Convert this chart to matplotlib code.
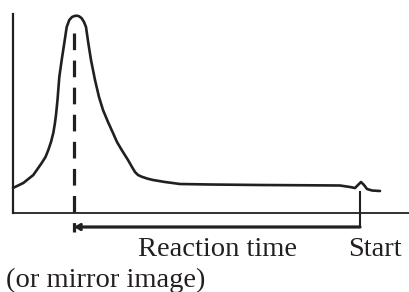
import matplotlib
matplotlib.use("Agg")
import matplotlib.pyplot as plt

# Signal trace (time, signal)
time = [0, 2, 10.3, 20.3, 28.7, 32.5, 35.3, 38, 40.3, 41.8, 43, 44.5, 46.3, 48.7,
        51.3, 53.7, 56.3, 59, 61.5, 63.7, 66, 68.7, 71, 73, 75.3, 78, 82, 86, 90, 95,
        100, 104, 108.7, 115, 119, 122, 125, 128.7, 134, 140, 152, 167, 197, 247, 297,
        327, 337, 342, 345, 348, 351, 354, 359, 367]
signal = [25, 26, 30, 38, 50, 56, 63, 71, 80, 89, 98, 113, 136, 153, 170, 186, 193,
          196, 197, 197.3, 196.8, 194.7, 191, 186, 170, 153, 133, 116, 103, 91, 80, 71,
          63, 53, 46, 41, 38, 36.3, 34.5, 33, 31, 29, 28.5, 28, 27.7, 27.5, 26, 25, 28,
          31, 28, 24, 22.5, 22]

peak_time = 61
start_time = 347
labels = ["Reaction time", "Start", "(or mirror image)"]

W, H = 410, 292
fig = plt.figure(figsize=(W / 100, H / 100), dpi=100)
ax = fig.add_axes([13 / W, 79 / H, 397 / W, 199 / H])
ax.set_xlim(0, 397)
ax.set_ylim(0, 199)
ax.set_xticks([])
ax.set_yticks([])
for s in ["top", "right"]:
    ax.spines[s].set_visible(False)
ink = "#231f20"
ax.spines["left"].set_linewidth(1.6)
ax.spines["bottom"].set_linewidth(1.3)
ax.spines["left"].set_color(ink)
ax.spines["bottom"].set_color(ink)

ax.plot(time, signal, color=ink, lw=1.9, solid_capstyle="round",
        solid_joinstyle="round", clip_on=False)

# dashed line at peak
lw_d = 2.3
ax.plot([peak_time, peak_time], [180, -19], color=ink, lw=lw_d,
        linestyle=(0, (12 / lw_d, 7.5 / lw_d)), dash_capstyle="butt", clip_on=False)

# start marker
ax.plot([start_time, start_time], [21, -14], color=ink, lw=1.5, clip_on=False)

# reaction time arrow
ax.annotate("", xy=(peak_time, -14), xytext=(start_time, -14),
            arrowprops=dict(arrowstyle="->,head_length=0.3,head_width=0.18",
                            color=ink, lw=2.3, shrinkA=0, shrinkB=0),
            annotation_clip=False)

font = dict(family="Liberation Serif", fontsize=20.5, color=ink)
ax.text(125, -43, labels[0], ha="left", va="baseline", clip_on=False, **font)
ax.text(335, -43, labels[1], ha="left", va="baseline", clip_on=False, **font)
ax.text(-7, -74, labels[2], ha="left", va="baseline", clip_on=False, **font)

fig.savefig("out.png", dpi=100)
